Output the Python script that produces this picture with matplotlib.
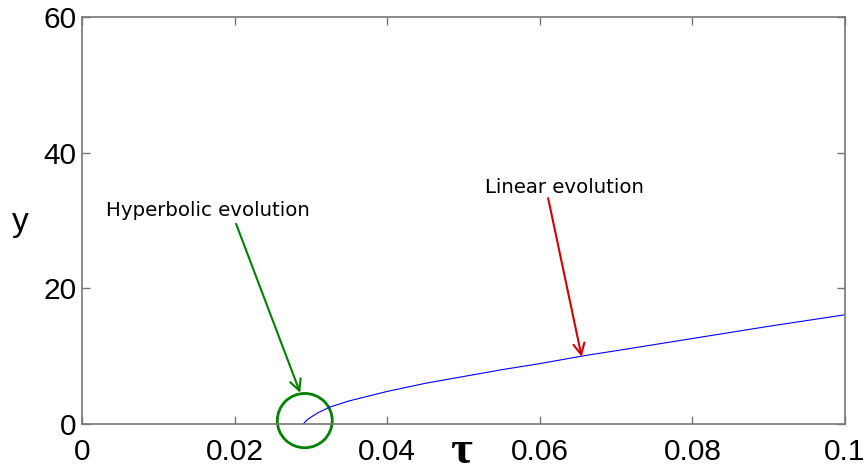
import numpy as np
import matplotlib.pyplot as plt
from matplotlib.patches import Ellipse

# curve
tau = [0.029, 0.0295, 0.030, 0.031, 0.0325, 0.035, 0.040, 0.045, 0.050,
       0.055, 0.060, 0.066, 0.070, 0.080, 0.090, 0.100]
y = [0.0, 0.6, 1.0, 1.7, 2.5, 3.4, 4.8, 6.0, 7.0,
     8.0, 8.9, 10.1, 10.8, 12.6, 14.4, 16.1]

xticks = [0, 0.02, 0.04, 0.06, 0.08, 0.1]
xticklabels = ['0', '0.02', '0.04', '0.06', '0.08', '0.1']
yticks = [0, 20, 40, 60]

fig = plt.figure(figsize=(8.64, 4.72), dpi=100)
ax = fig.add_axes([0.0949, 0.1017, 0.883, 0.8623])

ax.plot(tau, y, color='blue', linewidth=0.8)

ax.set_xlim(0, 0.1)
ax.set_ylim(0, 60)
ax.set_xticks(xticks)
ax.set_xticklabels(xticklabels)
ax.set_yticks(yticks)

for s in ax.spines.values():
    s.set_color('#777777')
    s.set_linewidth(1.2)
ax.tick_params(direction='in', length=6, width=1, color='#777777',
               top=True, right=True, labelsize=21.5)
ax.tick_params(axis='x', pad=10)
ax.tick_params(axis='y', pad=4)
for lab in ax.get_xticklabels() + ax.get_yticklabels():
    lab.set_family('Liberation Sans')

# axis labels
fig.text(461 / 864, 1 - 463 / 472, 'τ', fontsize=34, family='Liberation Serif',
         weight='bold', ha='center', va='baseline')
fig.text(20 / 864, 1 - 222 / 472, 'y', fontsize=24, family='Liberation Sans',
         ha='center', va='center')

# green circle around the start of the curve
circ = Ellipse((0.0292, 0.5), 0.0072, 8.0, fill=False, edgecolor='green',
               linewidth=2, clip_on=False)
ax.add_patch(circ)

arrow = dict(arrowstyle='->,head_width=0.4,head_length=0.8', lw=1.5,
             shrinkA=0, shrinkB=0)
ax.annotate('', xy=(0.0286, 4.6), xytext=(0.0202, 29.5),
            arrowprops=dict(arrow, color='green'))
ax.annotate('', xy=(0.0655, 9.9), xytext=(0.0611, 33.3),
            arrowprops=dict(arrow, color='#cc0000'))
ax.text(0.0165, 31.4, 'Hyperbolic evolution', fontsize=14.2,
        ha='center', va='center')
ax.text(0.0633, 34.9, 'Linear evolution', fontsize=14.2,
        ha='center', va='center')

fig.savefig('out.png', dpi=100)
